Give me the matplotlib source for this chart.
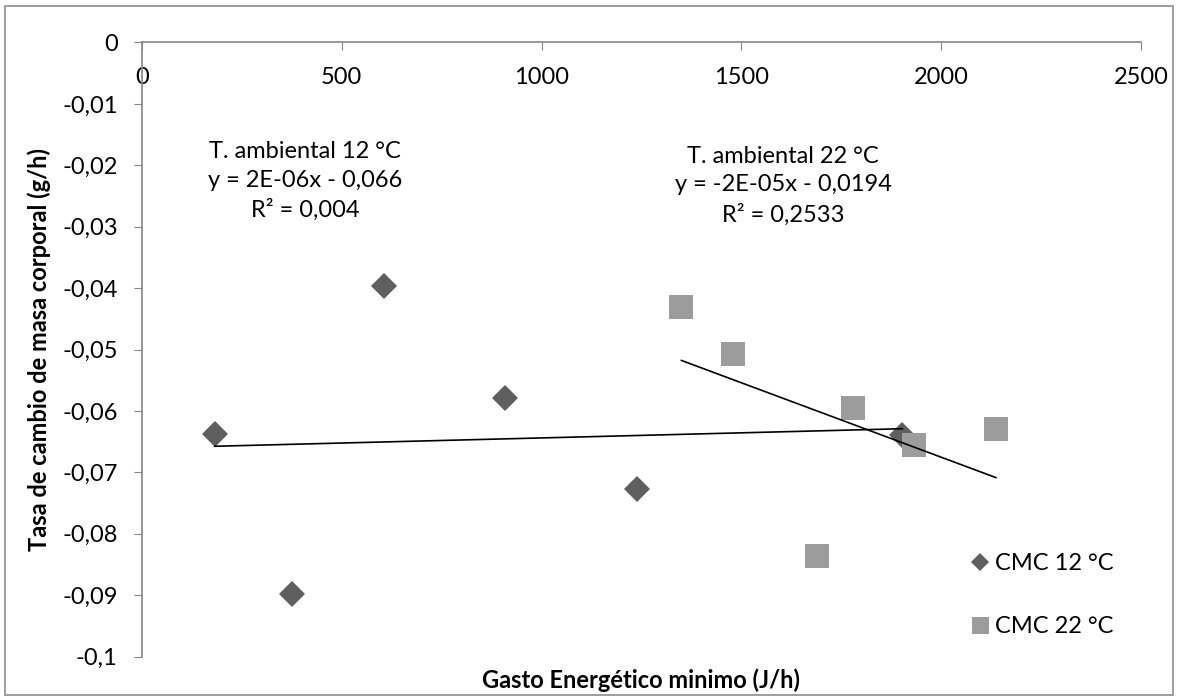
import numpy as np
import matplotlib
matplotlib.use('Agg')
import matplotlib.pyplot as plt
from matplotlib.ticker import FuncFormatter

# Datos
gasto_12 = [182, 375, 606, 909, 1240, 1903]
tasa_12 = [-0.0638, -0.0898, -0.0396, -0.0579, -0.0727, -0.0639]

gasto_22 = [1350, 1478, 1689, 1779, 1932, 2137]
tasa_22 = [-0.0431, -0.0507, -0.0836, -0.0596, -0.0656, -0.0630]

x_ticks = [0, 500, 1000, 1500, 2000, 2500]
y_ticks = [0, -0.01, -0.02, -0.03, -0.04, -0.05, -0.06, -0.07, -0.08, -0.09, -0.1]

eq_12 = 'T. ambiental 12 °C\ny = 2E-06x - 0,066\nR² = 0,004'
eq_22 = 'T. ambiental 22 °C\ny = -2E-05x - 0,0194\nR² = 0,2533'

plt.rcParams['font.family'] = ['Lato', 'DejaVu Sans']
plt.rcParams['font.size'] = 17

fig = plt.figure(figsize=(11.78, 7.0), dpi=100)
ax = fig.add_axes([0.1205, 0.0621, 0.8481, 0.8772])

# Marco del grafico
fig.patches.append(plt.Rectangle((0.004, 0.007), 0.992, 0.985, transform=fig.transFigure,
                                 fill=False, edgecolor='#8c8c8c', linewidth=1.2))

# Puntos
ax.plot(gasto_12, tasa_12, 'D', color='#5f5f5f', markersize=13, markeredgewidth=0,
        label='CMC 12 °C', zorder=3)
ax.plot(gasto_22, tasa_22, 's', color='#9c9c9c', markersize=17, markeredgewidth=0,
        label='CMC 22 °C', zorder=4)

# Lineas de tendencia lineal
for gx, ty in [(gasto_12, tasa_12), (gasto_22, tasa_22)]:
    m, b = np.polyfit(gx, ty, 1)
    xs = np.array([min(gx), max(gx)])
    ax.plot(xs, m * xs + b, color='black', linewidth=1.2, zorder=5)

ax.text(0.163, 0.774, eq_12, transform=ax.transAxes, ha='center', va='center',
        linespacing=1.45)
ax.text(0.642, 0.767, eq_22, transform=ax.transAxes, ha='center', va='center',
        linespacing=1.45)

ax.set_xlim(0, 2500)
ax.set_ylim(-0.1, 0)
ax.set_xticks(x_ticks)
ax.set_yticks(y_ticks)
ax.yaxis.set_major_formatter(FuncFormatter(lambda v, p: ('%g' % v).replace('.', ',')))

for s in ['right', 'bottom']:
    ax.spines[s].set_visible(False)
for s in ['left', 'top']:
    ax.spines[s].set_color('#868686')
    ax.spines[s].set_linewidth(1.2)

ax.tick_params(axis='x', top=True, bottom=False, labeltop=True, labelbottom=False,
               direction='in', length=5.5, color='#868686', pad=-33)
ax.tick_params(axis='y', direction='out', length=5.5, color='#868686', pad=12)

ax.set_xlabel('Gasto Energético minimo (J/h)', fontweight='bold', fontsize=17)
ax.xaxis.set_label_position('bottom')
ax.xaxis.set_label_coords(0.5, -0.019)
ax.set_ylabel('Tasa de cambio de masa corporal (g/h)', fontweight='bold', fontsize=17)
ax.yaxis.set_label_coords(-0.103, 0.5)
ax.yaxis.label.set_va('center')

ax.legend(loc='center left', bbox_to_anchor=(0.827, 0.100), frameon=False,
          borderpad=0, borderaxespad=0, labelspacing=1.8, handletextpad=0.15,
          handlelength=1.0, markerscale=0.72)

fig.savefig('out.png', dpi=100)
